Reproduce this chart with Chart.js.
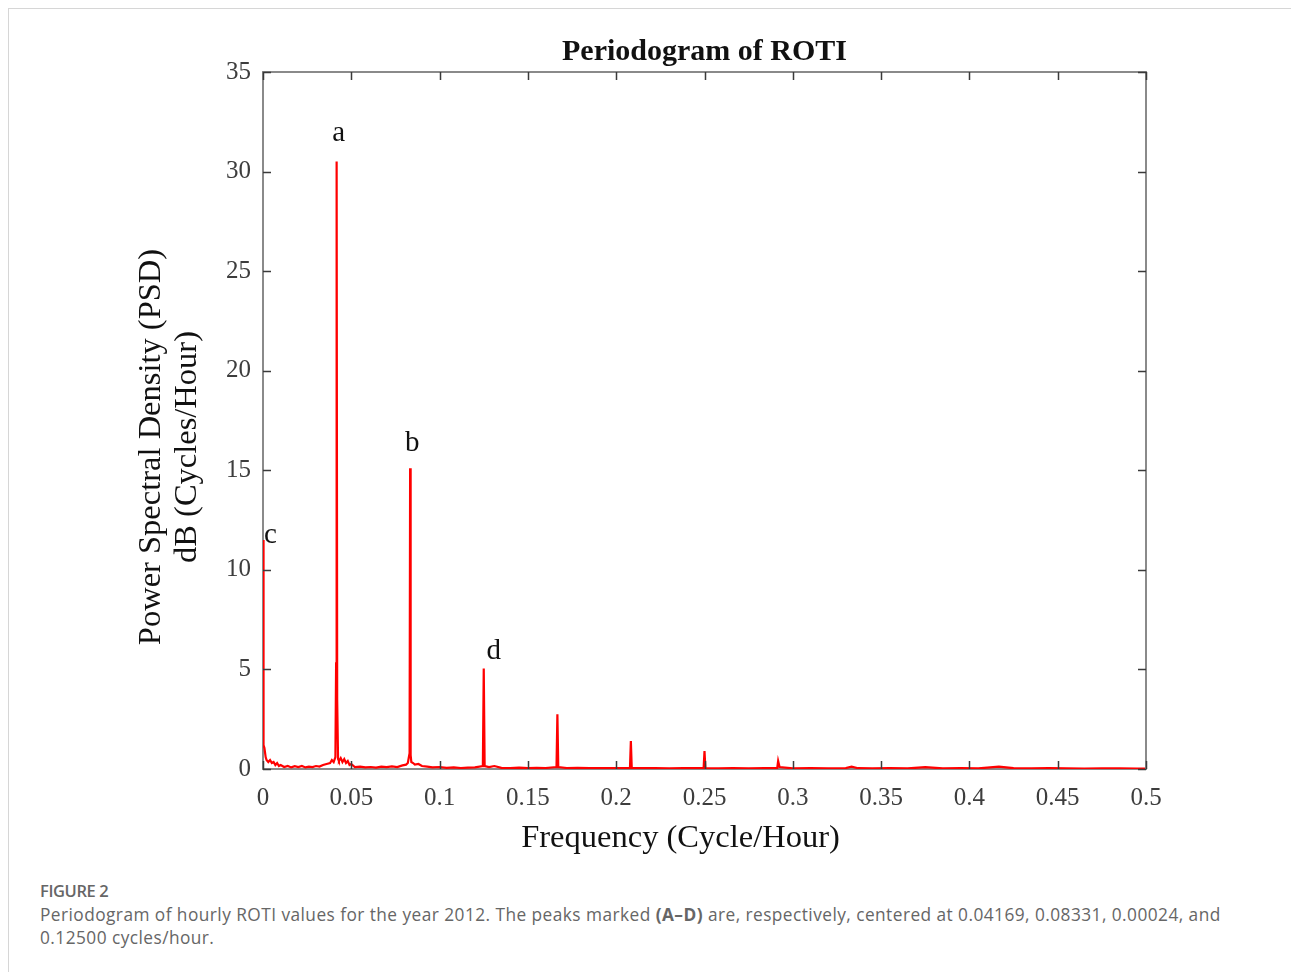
<!DOCTYPE html>
<html>
<head>
<meta charset="utf-8">
<script src="https://cdn.jsdelivr.net/npm/chart.js@4.4.1/dist/chart.umd.min.js"></script>
<style>
  html, body { margin: 0; padding: 0; background: #fff; }
  body { width: 1291px; height: 972px; position: relative; overflow: hidden; }
  #card { position: absolute; left: 8px; top: 8px; width: 1400px; height: 1000px;
          border-top: 1px solid #d6d6d6; border-left: 1px solid #d6d6d6; }
  #wrap { position: absolute; left: 0; top: 0; width: 1291px; height: 870px; }
  #cap { position: absolute; left: 40px; top: 878px; width: 1200px;
         font-family: "Open Sans", "Noto Sans", sans-serif; color: #5a5a5a; }
  #cap .fig { font-size: 16.5px; font-weight: 600; color: #666; line-height: 25px; letter-spacing: -0.4px; }
  #cap .txt { font-size: 17.3px; line-height: 23px; color: #666; letter-spacing: 0.45px; }
</style>
</head>
<body>
<div id="card"></div>
<div id="wrap"><canvas id="c" width="1291" height="870"></canvas></div>
<div id="cap">
  <div class="fig">FIGURE 2</div>
  <div class="txt">Periodogram of hourly ROTI values for the year 2012. The peaks marked <b>(A–D)</b> are, respectively, centered at 0.04169, 0.08331, 0.00024, and 0.12500 cycles/hour.</div>
</div>
<script>
// ---- data ----
const freqCycPerHour = [
  0, 0.0003, 0.0008, 0.0015, 0.002, 0.003, 0.004, 0.005, 0.006, 0.007,
  0.008, 0.009, 0.010, 0.012, 0.014, 0.016, 0.018, 0.020, 0.022, 0.024,
  0.026, 0.028, 0.030, 0.032, 0.034, 0.036, 0.038, 0.039, 0.040, 0.041,
  0.0414, 0.04169, 0.042, 0.0425, 0.043, 0.044, 0.045, 0.046, 0.047, 0.048,
  0.049, 0.050, 0.052, 0.055, 0.058, 0.061, 0.064, 0.067, 0.070, 0.073,
  0.076, 0.079, 0.081, 0.082, 0.0830, 0.08331, 0.0836, 0.084, 0.085, 0.086,
  0.088, 0.090, 0.093, 0.096, 0.100, 0.104, 0.108, 0.112, 0.116, 0.120,
  0.1245, 0.125, 0.1255, 0.128, 0.131, 0.135, 0.140, 0.145, 0.150, 0.155,
  0.160, 0.1662, 0.1667, 0.1672, 0.172, 0.178, 0.185, 0.192, 0.200, 0.2078,
  0.2083, 0.2088, 0.215, 0.222, 0.230, 0.238, 0.2495, 0.250, 0.2505, 0.258,
  0.266, 0.275, 0.284, 0.2912, 0.2917, 0.2925, 0.300, 0.310, 0.320, 0.330,
  0.3333, 0.337, 0.345, 0.355, 0.365, 0.375, 0.385, 0.395, 0.405, 0.4167,
  0.425, 0.435, 0.445, 0.455, 0.465, 0.475, 0.485, 0.495, 0.5
];
const psdDb = [
  11.5, 1.2, 1.05, 0.6, 0.45, 0.35, 0.45, 0.3, 0.35, 0.2,
  0.3, 0.15, 0.2, 0.1, 0.15, 0.08, 0.14, 0.1, 0.15, 0.08,
  0.12, 0.1, 0.15, 0.12, 0.2, 0.25, 0.3, 0.45, 0.35, 0.6,
  5.3, 30.5, 3.5, 0.5, 0.4, 0.55, 0.35, 0.5, 0.3, 0.4,
  0.2, 0.25, 0.1, 0.12, 0.08, 0.1, 0.07, 0.12, 0.09, 0.13,
  0.1, 0.18, 0.22, 0.3, 0.8, 15.1, 0.7, 0.35, 0.3, 0.22,
  0.25, 0.15, 0.12, 0.08, 0.1, 0.06, 0.08, 0.05, 0.07, 0.08,
  0.15, 5.05, 0.15, 0.1, 0.15, 0.06, 0.05, 0.07, 0.04, 0.06,
  0.05, 0.1, 2.75, 0.1, 0.05, 0.06, 0.04, 0.05, 0.04, 0.06,
  1.4, 0.05, 0.04, 0.05, 0.03, 0.05, 0.04, 0.9, 0.04, 0.03,
  0.04, 0.03, 0.04, 0.05, 0.4, 0.1, 0.03, 0.04, 0.03, 0.05,
  0.12, 0.04, 0.03, 0.04, 0.03, 0.09, 0.03, 0.04, 0.03, 0.12,
  0.04, 0.03, 0.04, 0.03, 0.02, 0.03, 0.03, 0.02, 0.02
];
const peakLabels = ['a', 'b', 'c', 'd'];
const peakFreqs  = [0.04169, 0.08331, 0.00024, 0.125];
const peakValues = [30.5, 15.1, 11.5, 5.05];
const yTickValues = [0, 5, 10, 15, 20, 25, 30, 35];
const xTickValues = [0, 0.05, 0.1, 0.15, 0.2, 0.25, 0.3, 0.35, 0.4, 0.45, 0.5];
const chartTitle = 'Periodogram of ROTI';
const xTitle = 'Frequency (Cycle/Hour)';
const yTitleLines = ['Power Spectral Density (PSD)', 'dB (Cycles/Hour)'];

// ---- styles / layout ----
const SERIF = '"Liberation Serif", "Times New Roman", serif';
const labelOffsets = [[2, -28], [2, -25], [7, -5], [10, -17]]; // px offsets from peak tip

const points = freqCycPerHour.map((f, i) => ({ x: f, y: psdDb[i] }));

const decor = {
  id: 'decor',
  afterDraw(chart) {
    const { ctx, chartArea: a, scales } = chart;
    const xs = scales.x, ys = scales.y;
    ctx.save();
    // top and right frame
    ctx.strokeStyle = '#8a8a8a';
    ctx.lineWidth = 2;
    ctx.beginPath();
    ctx.moveTo(a.left, a.top); ctx.lineTo(a.right, a.top); ctx.lineTo(a.right, a.bottom);
    ctx.stroke();
    // inward tick marks
    ctx.strokeStyle = '#3a3a3a';
    ctx.lineWidth = 1.5;
    const L = 8;
    ctx.beginPath();
    xTickValues.forEach(v => {
      const px = Math.round(xs.getPixelForValue(v)) + 0.5;
      ctx.moveTo(px, a.bottom); ctx.lineTo(px, a.bottom - L);
      ctx.moveTo(px, a.top); ctx.lineTo(px, a.top + L);
    });
    yTickValues.forEach(v => {
      const py = Math.round(ys.getPixelForValue(v)) + 0.5;
      ctx.moveTo(a.left, py); ctx.lineTo(a.left + L, py);
      ctx.moveTo(a.right, py); ctx.lineTo(a.right - L, py);
    });
    ctx.stroke();
    // peak labels
    ctx.fillStyle = '#111';
    ctx.font = '29px ' + SERIF;
    ctx.textAlign = 'center';
    ctx.textBaseline = 'middle';
    peakLabels.forEach((t, i) => {
      const px = xs.getPixelForValue(peakFreqs[i]) + labelOffsets[i][0];
      const py = ys.getPixelForValue(peakValues[i]) + labelOffsets[i][1];
      ctx.fillText(t, px, py);
    });
    // title
    ctx.font = 'bold 30px ' + SERIF;
    ctx.fillText(chartTitle, (a.left + a.right) / 2, 52);
    // x title
    ctx.font = '32.5px ' + SERIF;
    ctx.fillText(xTitle, (a.left + a.right) / 2 - 24, 838);
    // y title
    ctx.translate(0, 447);
    ctx.rotate(-Math.PI / 2);
    ctx.font = '32.5px ' + SERIF;
    ctx.fillText(yTitleLines[0], 0, 151);
    ctx.fillText(yTitleLines[1], 0, 187);
    ctx.restore();
  }
};

new Chart(document.getElementById('c'), {
  type: 'line',
  data: {
    datasets: [{
      data: points,
      borderColor: 'rgb(255,0,0)',
      borderWidth: 2.2,
      pointRadius: 0,
      tension: 0,
      fill: false
    }]
  },
  options: {
    responsive: false,
    animation: false,
    devicePixelRatio: 1,
    layout: { padding: { top: 72, right: 145, left: 0, bottom: 0 } },
    plugins: { legend: { display: false }, tooltip: { enabled: false } },
    scales: {
      x: {
        type: 'linear', min: 0, max: 0.5,
        afterBuildTicks: s => { s.ticks = xTickValues.map(v => ({ value: v })); },
        afterFit: s => { s.height = 101; },
        grid: { display: false, drawTicks: false },
        border: { display: true, color: '#8a8a8a', width: 2 },
        ticks: {
          padding: 14, color: '#3d3d3d', maxRotation: 0, autoSkip: false,
          font: { family: SERIF, size: 25 },
          callback: v => String(+(+v).toFixed(2))
        }
      },
      y: {
        type: 'linear', min: 0, max: 35,
        afterBuildTicks: s => { s.ticks = yTickValues.map(v => ({ value: v })); },
        afterFit: s => { s.width = 263; },
        grid: { display: false, drawTicks: false },
        border: { display: true, color: '#8a8a8a', width: 2 },
        ticks: {
          padding: 12, color: '#3d3d3d',
          font: { family: SERIF, size: 25 }
        }
      }
    }
  },
  plugins: [decor]
});
</script>
</body>
</html>
